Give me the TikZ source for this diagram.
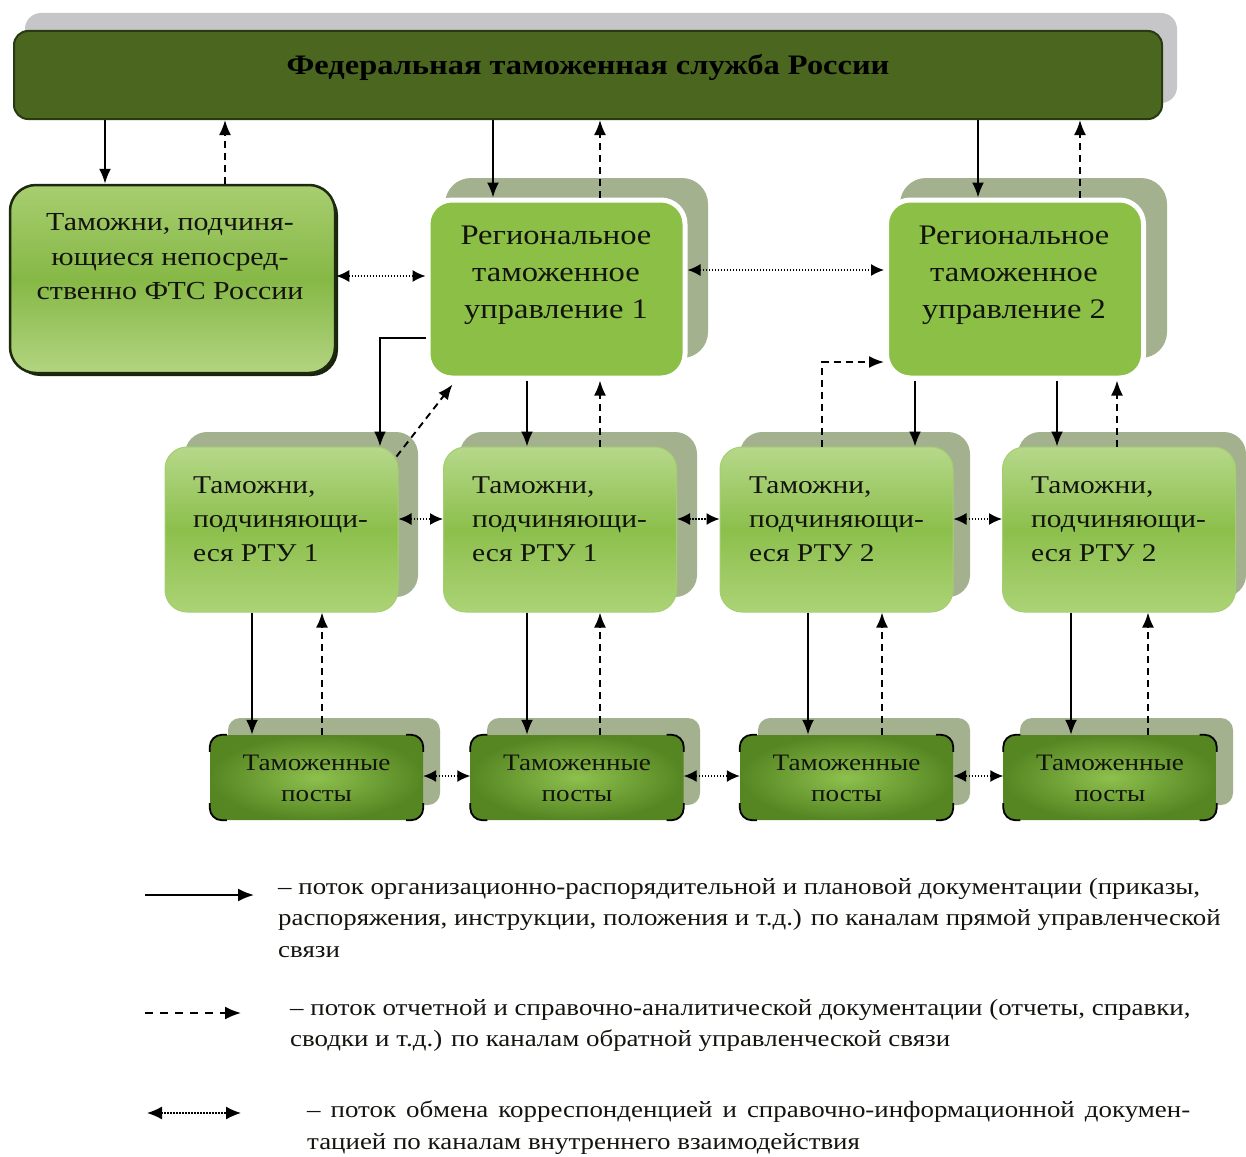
\documentclass[tikz,border=0pt]{standalone}
\usepackage{fontspec}
\setmainfont{Liberation Serif}[FakeStretch=1.15]
\usetikzlibrary{arrows.meta,calc}
\definecolor{ftsfill}{RGB}{74,102,31}
\definecolor{ftsline}{RGB}{40,58,16}
\definecolor{ftsshadow}{RGB}{198,198,200}
\definecolor{rtufill}{RGB}{140,191,70}
\definecolor{boxshadow}{RGB}{163,177,142}
\definecolor{ctop}{RGB}{182,216,138}
\definecolor{cmid}{RGB}{140,191,76}
\definecolor{cbot}{RGB}{172,211,118}
\definecolor{cline}{RGB}{165,206,115}
\definecolor{dtop}{RGB}{168,206,112}
\definecolor{dmid}{RGB}{134,184,70}
\definecolor{dbot}{RGB}{178,212,128}
\definecolor{dline}{RGB}{30,42,16}
\definecolor{pout}{RGB}{86,134,34}
\definecolor{pin}{RGB}{142,192,78}
\definecolor{txt}{RGB}{20,20,15}
\begin{document}
\begin{tikzpicture}[x=1pt,y=-1pt,
  sol/.style={line width=1.9pt,-{Latex[length=15pt,width=12pt]}},
  dsh/.style={sol,dash pattern=on 7pt off 5pt},
  dot/.style={line width=1.4pt,dash pattern=on 1.4pt off 1.6pt,{Latex[length=13pt,width=12pt]}-{Latex[length=13pt,width=12pt]}},
  ftsbox/.style={rectangle,rounded corners=14pt,fill=ftsfill,draw=ftsline,line width=2pt,minimum width=1148pt,minimum height=88pt,inner sep=0pt},
  dirbox/.style={rectangle,rounded corners=26pt,top color=dtop,bottom color=dbot,middle color=dmid,draw=dline,line width=2.5pt,minimum width=325pt,minimum height=188pt,inner sep=0pt},
  rtubox/.style={rectangle,rounded corners=24pt,fill=rtufill,draw=white,line width=5pt,minimum width=257pt,minimum height=178pt,inner sep=0pt},
  cbox/.style={rectangle,rounded corners=22pt,top color=ctop,bottom color=cbot,middle color=cmid,draw=cline,line width=1pt,minimum width=233pt,minimum height=165pt,inner sep=0pt},
  pbox/.style={rectangle,rounded corners=12pt,shading=radial,inner color=pin,outer color=pout,minimum width=213pt,minimum height=85pt,inner sep=0pt},
  dirtxt/.style={text=txt,font=\fontsize{26}{34.5}\selectfont,align=center,inner sep=0pt},
  boxtxt/.style={text=txt,font=\fontsize{28.3}{37}\selectfont,align=center,inner sep=0pt},
  ctxt/.style={text=txt,font=\fontsize{25.6}{34}\selectfont,align=left,anchor=west,inner sep=0pt},
  ptxt/.style={text=txt,font=\fontsize{23.6}{31}\selectfont,align=center,inner sep=0pt},
  legtxt/.style={text=txt,font=\fontsize{23.4}{31.5}\selectfont,align=left,anchor=north west,inner sep=0pt},
]
\useasboundingbox (0,0) rectangle (1246,1156);
% shadows
\fill[ftsshadow,rounded corners=16pt] (25,13) rectangle (1177,103);
\fill[boxshadow,rounded corners=26pt] (445,178) rectangle (708,358);
\fill[boxshadow,rounded corners=26pt] (900,178) rectangle (1167,358);
\fill[boxshadow,rounded corners=22pt] (185,432) rectangle (418,597);
\fill[boxshadow,rounded corners=22pt] (460,432) rectangle (697,597);
\fill[boxshadow,rounded corners=22pt] (740,432) rectangle (970,597);
\fill[boxshadow,rounded corners=22pt] (1018,432) rectangle (1246,597);
\fill[boxshadow,rounded corners=12pt] (228,718) rectangle (440,805);
\fill[boxshadow,rounded corners=12pt] (487,718) rectangle (700,805);
\fill[boxshadow,rounded corners=12pt] (758,718) rectangle (970,805);
\fill[boxshadow,rounded corners=12pt] (1020,718) rectangle (1233,805);
\fill[dline!85!black,rounded corners=26pt] (14,189) rectangle (338,376);
% boxes
\node[ftsbox] (fts) at (588,75) {};
\node[text=black,font=\fontsize{28.2}{30}\selectfont\bfseries,inner sep=0pt] (ftsT) at (588,67) {Федеральная таможенная служба России};
\node[dirbox] (dir) at (172.5,279) {};
\node[dirtxt] (dirT) at (170,257) {Таможни, подчиня-\\ющиеся непосред-\\ственно ФТС России};
\node[rtubox] (rtu1) at (556.5,289) {};
\node[boxtxt] (rtu1T) at (556,275) {Региональное\\таможенное\\управление 1};
\node[rtubox] (rtu2) at (1015,289) {};
\node[boxtxt] (rtu2T) at (1014,275) {Региональное\\таможенное\\управление 2};
\node[cbox] (c1) at (281.5,529.5) {};
\node[cbox] (c2) at (560,529.5) {};
\node[cbox] (c3) at (836.5,529.5) {};
\node[cbox] (c4) at (1119,529.5) {};
\node[ctxt] (c1T) at (193,519) {Таможни,\\подчиняющи-\\еся РТУ 1};
\node[ctxt] (c2T) at (472,519) {Таможни,\\подчиняющи-\\еся РТУ 1};
\node[ctxt] (c3T) at (749,519) {Таможни,\\подчиняющи-\\еся РТУ 2};
\node[ctxt] (c4T) at (1031,519) {Таможни,\\подчиняющи-\\еся РТУ 2};
\foreach \n/\x in {p1/316.5,p2/577,p3/846.5,p4/1110}{
  \node[pbox] (\n) at (\x,777.5) {};
  \begin{scope}
    \clip ([shift={(-3,-3)}]\n.north west) rectangle ++(20,20)
          ([shift={(3,-3)}]\n.north east) rectangle ++(-20,20)
          ([shift={(-3,3)}]\n.south west) rectangle ++(20,-20)
          ([shift={(3,3)}]\n.south east) rectangle ++(-20,-20);
    \draw[black,line width=1.8pt,rounded corners=12pt] (\n.north west) rectangle (\n.south east);
  \end{scope}
  \node[ptxt] (\n T) at (\x,778) {Таможенные\\посты};
}
% FTS links
\draw[sol] (fts.south -| 105,0) -- (dir.north -| 105,0);
\draw[dsh] (dir.north -| 225,0) -- (fts.south -| 225,0);
\draw[sol] (fts.south -| 493,0) -- (rtu1.north -| 493,0);
\draw[dsh] (rtu1.north -| 600,0) -- (fts.south -| 600,0);
\draw[sol] (fts.south -| 978,0) -- (rtu2.north -| 978,0);
\draw[dsh] (rtu2.north -| 1080,0) -- (fts.south -| 1080,0);
% horizontal exchanges
\draw[dot] (dir.east |- 0,276) -- (rtu1.west |- 0,276);
\draw[dot] (rtu1.east |- 0,270) -- (rtu2.west |- 0,270);
\draw[dot] (c1.east |- 0,519) -- (c2.west |- 0,519);
\draw[dot] (c2.east |- 0,519) -- (c3.west |- 0,519);
\draw[dot] (c3.east |- 0,519) -- (c4.west |- 0,519);
\draw[dot] (p1.east |- 0,776) -- (p2.west |- 0,776);
\draw[dot] (p2.east |- 0,776) -- (p3.west |- 0,776);
\draw[dot] (p3.east |- 0,776) -- (p4.west |- 0,776);
% RTU to customs
\draw[sol] (rtu1.west |- 0,338) -| (c1.north -| 380,0);
\draw[dsh] ([shift={(-2,10)}]c1.north east) -- ([shift={(27,4)}]rtu1.south west);
\draw[sol] (rtu1.south -| 527,0) -- (c2.north -| 527,0);
\draw[dsh] (c2.north -| 600,0) -- (rtu1.south -| 600,0);
\draw[dsh] (c3.north -| 822,0) |- (rtu2.west |- 0,362);
\draw[sol] (rtu2.south -| 915,0) -- (c3.north -| 915,0);
\draw[sol] (rtu2.south -| 1057,0) -- (c4.north -| 1057,0);
\draw[dsh] (c4.north -| 1117,0) -- (rtu2.south -| 1117,0);
% customs to posts
\draw[sol] (c1.south -| 252,0) -- (p1.north -| 252,0);
\draw[dsh] (p1.north -| 322,0) -- (c1.south -| 322,0);
\draw[sol] (c2.south -| 527,0) -- (p2.north -| 527,0);
\draw[dsh] (p2.north -| 600,0) -- (c2.south -| 600,0);
\draw[sol] (c3.south -| 808,0) -- (p3.north -| 808,0);
\draw[dsh] (p3.north -| 882,0) -- (c3.south -| 882,0);
\draw[sol] (c4.south -| 1071,0) -- (p4.north -| 1071,0);
\draw[dsh] (p4.north -| 1148,0) -- (c4.south -| 1148,0);
% legend
\coordinate (l1a) at (145,895); \coordinate (l1b) at (254,895);
\coordinate (l2a) at (145,1013); \coordinate (l2b) at (241,1013);
\coordinate (l3a) at (147,1113); \coordinate (l3b) at (241,1113);
\draw[sol,-{Latex[length=16pt,width=13pt]}] (l1a) -- (l1b);
\draw[sol,dash pattern=on 8pt off 7pt,-{Latex[length=16pt,width=13pt]}] (l2a) -- (l2b);
\draw[dot,{Latex[length=15pt,width=13pt]}-{Latex[length=15pt,width=13pt]}] (l3a) -- (l3b);
\node[legtxt] (leg1) at (278,878) {– поток организационно-распорядительной и плановой документации (приказы,\\распоряжения, инструкции, положения и т.д.) по каналам прямой управленческой\\связи};
\node[legtxt] (leg2) at (290,999) {– поток отчетной и справочно-аналитической документации (отчеты, справки,\\сводки и т.д.) по каналам обратной управленческой связи};
\node[legtxt,text width=883pt,align=justify] (leg3) at (307,1101) {– поток обмена корреспонденцией и справочно-информационной докумен-\linebreak тацией по каналам внутреннего взаимодействия};
\end{tikzpicture}
\end{document}
